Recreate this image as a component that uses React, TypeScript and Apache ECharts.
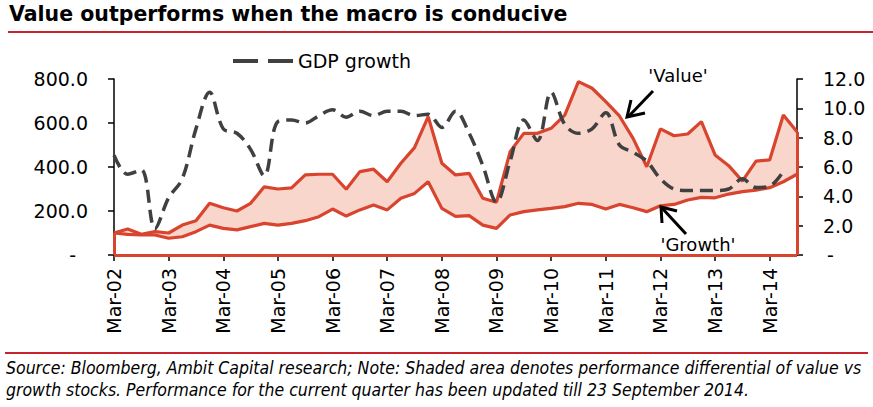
import React, { useEffect, useRef } from "react";
import * as echarts from "echarts";

const years = ["02", "03", "04", "05", "06", "07", "08", "09", "10", "11", "12", "13", "14"];
const quarterMonths = ["Mar", "Jun", "Sep", "Dec"];
const categories: string[] = [];
years.forEach((y) => quarterMonths.forEach((m) => categories.push(`${m}-${y}`)));
categories.splice(categories.indexOf("Sep-14") + 1);

const valueIndex = [
  100, 118, 94, 106, 100, 136, 156, 235, 215, 200, 235, 310, 300, 305, 364, 367, 367, 299, 379, 390,
  333, 417, 488, 629, 417, 364, 371, 258, 240, 470, 553, 553, 576, 636, 788, 758, 697, 632, 530, 401,
  573, 542, 550, 606, 455, 406, 336, 427, 432, 636, 560,
];
const growthIndex = [
  100, 94, 91, 91, 76, 83, 106, 136, 121, 114, 129, 144, 136, 144, 156, 174, 209, 177, 205, 227,
  205, 258, 280, 333, 212, 176, 179, 136, 121, 182, 197, 205, 212, 220, 235, 230, 209, 230, 215, 197,
  224, 230, 250, 262, 260, 277, 288, 295, 306, 333, 367,
];
const gdpGrowth = [
  6.8, 5.5, 5.8, 1.8, 3.9, 5.2, 8.6, 11.1, 8.6, 8.3, 7.2, 5.4, 9.1, 9.2, 9.0, 9.5, 9.9, 9.4, 9.8, 9.5,
  9.8, 9.8, 9.5, 9.6, 8.7, 9.8, 8.3, 6.1, 3.6, 6.4, 9.2, 7.8, 11.1, 8.9, 8.3, 8.6, 9.7, 7.5, 7.0, 6.4,
  5.2, 4.5, 4.4, 4.4, 4.4, 4.5, 5.2, 4.6, 4.7, 5.7, null,
];
const leftTicks = [0, 200, 400, 600, 800];
const rightTicks = [0, 2, 4, 6, 8, 10, 12];

const TITLE = "Value outperforms when the macro is conducive";
const NOTE1 =
  "Source: Bloomberg, Ambit Capital research; Note: Shaded area denotes performance differential of value vs";
const NOTE2 =
  "growth stocks. Performance for the current quarter has been updated till 23 September 2014.";

const RED = "#D9442E";
const FILL = "#F8D6CC";
const GREY = "#404040";
const FONT = "DejaVu Sans";
const NOTE_FONT = "DejaVu Sans Condensed";

export default function App() {
  const ref = useRef<HTMLDivElement>(null);
  useEffect(() => {
    if (!ref.current) return;
    const chart = echarts.init(ref.current, null, { renderer: "svg" });
    const last = categories.length - 1;
    const fmtLeft = (v: number) => (v === 0 ? "{d|-}" : v.toFixed(1));
    const fmtRight = (v: number) => (v === 0 ? "{d|-}" : v.toFixed(1));
    chart.setOption({
      animation: false,
      backgroundColor: "#ffffff",
      textStyle: { fontFamily: FONT },
      grid: { left: 114, right: 76, top: 79, bottom: 152 },
      xAxis: {
        type: "category",
        data: categories,
        boundaryGap: false,
        axisLine: { lineStyle: { color: "#000", width: 1.5 } },
        axisTick: { interval: 3, length: 6, lineStyle: { color: "#000", width: 1.5 } },
        axisLabel: {
          interval: 3,
          rotate: 90,
          margin: 13,
          color: "#000",
          fontSize: 19,
          fontFamily: FONT,
        },
      },
      yAxis: [
        {
          type: "value",
          min: leftTicks[0],
          max: leftTicks[leftTicks.length - 1],
          interval: 200,
          splitLine: { show: false },
          axisLine: { show: true, lineStyle: { color: "#000", width: 1.5 } },
          axisTick: { show: true, length: 6, lineStyle: { color: "#000", width: 1.5 } },
          axisLabel: {
            margin: 26,
            color: "#000",
            fontSize: 19,
            fontFamily: FONT,
            formatter: fmtLeft,
            rich: { d: { fontSize: 19, color: "#000", padding: [0, 12, 0, 0] } },
          },
        },
        {
          type: "value",
          min: rightTicks[0],
          max: rightTicks[rightTicks.length - 1],
          interval: 2,
          position: "right",
          splitLine: { show: false },
          axisLine: { show: true, lineStyle: { color: "#000", width: 1.5 } },
          axisTick: { show: true, length: 6, lineStyle: { color: "#000", width: 1.5 } },
          axisLabel: {
            margin: 26,
            color: "#000",
            fontSize: 19,
            fontFamily: FONT,
            formatter: fmtRight,
            rich: { d: { fontSize: 19, color: "#000", padding: [0, 0, 0, 4] } },
          },
        },
      ],
      series: [
        {
          name: "ValueFill",
          type: "line",
          data: valueIndex,
          symbol: "none",
          lineStyle: { width: 0 },
          areaStyle: { color: FILL, opacity: 1 },
          z: 1,
          silent: true,
        },
        {
          name: "GrowthFill",
          type: "line",
          data: growthIndex,
          symbol: "none",
          lineStyle: { width: 0 },
          areaStyle: { color: "#ffffff", opacity: 1 },
          z: 2,
          silent: true,
        },
        {
          name: "'Value'",
          type: "line",
          data: valueIndex,
          symbol: "none",
          lineStyle: { color: RED, width: 3.2 },
          z: 3,
          markLine: {
            silent: true,
            symbol: "none",
            label: { show: false },
            lineStyle: { color: RED, width: 3, type: "solid" },
            data: [
              [{ coord: [categories[0], 0] }, { coord: [categories[0], valueIndex[0]] }],
              [{ coord: [categories[last], 0] }, { coord: [categories[last], valueIndex[last]] }],
              [{ coord: [categories[0], 0] }, { coord: [categories[last], 0] }],
            ],
          },
        },
        {
          name: "'Growth'",
          type: "line",
          data: growthIndex,
          symbol: "none",
          lineStyle: { color: RED, width: 3.2 },
          z: 4,
        },
        {
          name: "GDP growth",
          type: "line",
          yAxisIndex: 1,
          data: gdpGrowth,
          symbol: "none",
          smooth: 0.35,
          connectNulls: false,
          lineStyle: { color: GREY, width: 3.5, type: [13, 7], cap: "butt" },
          z: 5,
        },
      ],
      graphic: {
        elements: [
          {
            type: "group",
            z: 100,
            children: [
              {
                type: "text",
                x: 9,
                y: 3,
                z: 100,
                style: { text: TITLE, fontFamily: FONT, fontWeight: "bold", fontSize: 20.5, fill: "#000" },
              },
              {
                type: "line",
                z: 100,
                shape: { x1: 8, y1: 32, x2: 873, y2: 32 },
                style: { stroke: "#C8232C", lineWidth: 2 },
              },
              {
                type: "line",
                z: 100,
                shape: { x1: 233, y1: 61, x2: 258, y2: 61 },
                style: { stroke: GREY, lineWidth: 4 },
              },
              {
                type: "line",
                z: 100,
                shape: { x1: 268, y1: 61, x2: 293, y2: 61 },
                style: { stroke: GREY, lineWidth: 4 },
              },
              {
                type: "text",
                z: 100,
                x: 298,
                y: 61,
                style: { text: "GDP growth", fontFamily: FONT, fontSize: 19, fill: "#000", verticalAlign: "middle" },
              },
              {
                type: "text",
                z: 100,
                x: 678,
                y: 75,
                style: { text: "'Value'", fontFamily: FONT, fontSize: 18, fill: "#000", align: "center", verticalAlign: "middle" },
              },
              {
                type: "line",
                z: 100,
                shape: { x1: 653, y1: 91, x2: 628, y2: 117 },
                style: { stroke: "#000", lineWidth: 3 },
              },
              {
                type: "polyline",
                z: 100,
                shape: { points: [[631, 100], [627, 117], [645, 113]] },
                style: { stroke: "#000", lineWidth: 3, fill: "none" },
              },
              {
                type: "text",
                z: 100,
                x: 698,
                y: 244,
                style: { text: "'Growth'", fontFamily: FONT, fontSize: 18, fill: "#000", align: "center", verticalAlign: "middle" },
              },
              {
                type: "line",
                z: 100,
                shape: { x1: 686, y1: 234, x2: 662, y2: 208 },
                style: { stroke: "#000", lineWidth: 3 },
              },
              {
                type: "polyline",
                z: 100,
                shape: { points: [[662, 223], [661, 207], [677, 211]] },
                style: { stroke: "#000", lineWidth: 3, fill: "none" },
              },
              {
                type: "line",
                z: 100,
                shape: { x1: 5, y1: 353, x2: 868, y2: 353 },
                style: { stroke: "#C8232C", lineWidth: 2 },
              },
              {
                type: "text",
                z: 100,
                x: 6,
                y: 368,
                style: { text: NOTE1, fontFamily: NOTE_FONT, fontStyle: "italic", fontSize: 17.5, fill: "#000", verticalAlign: "middle" },
              },
              {
                type: "text",
                z: 100,
                x: 6,
                y: 390,
                style: { text: NOTE2, fontFamily: NOTE_FONT, fontStyle: "italic", fontSize: 17.5, fill: "#000", verticalAlign: "middle" },
              },
            ],
          },
        ],
      },
    });
    return () => chart.dispose();
  }, []);
  return (
    <div
      ref={ref}
      style={{ position: "fixed", left: 0, top: 0, width: 873, height: 407, background: "#fff" }}
    />
  );
}
